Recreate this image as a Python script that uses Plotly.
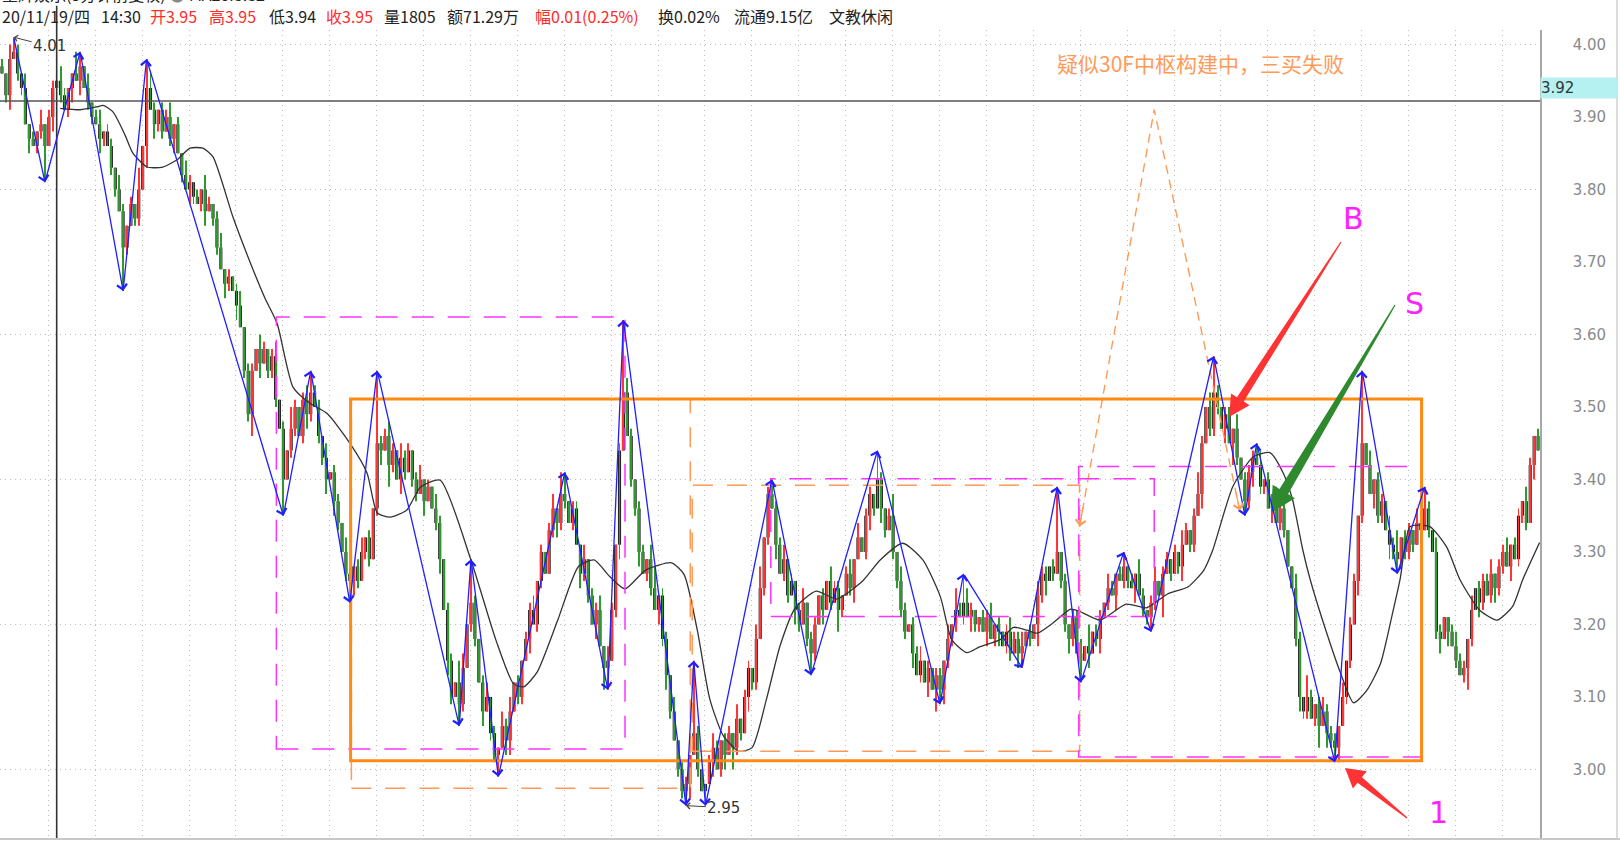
import plotly.graph_objects as go

# ---------------- data ----------------
first_open = 3.97
close_cents = [
    396, 393, 398, 399, 396, 394, 389, 387, 386, 388,   # 0-9
    389, 386, 390, 394, 395, 393, 391, 394, 396, 395,   # 10-19
    397, 394, 392, 390, 389, 387, 388, 386, 383, 380,   # 20-29
    377, 372, 375, 378, 376, 380, 386, 394, 391, 389,   # 30-39
    391, 388, 390, 387, 389, 385, 382, 380, 381, 379,   # 40-49
    378, 380, 377, 378, 376, 372, 369, 367, 368, 366,   # 50-59
    364, 361, 355, 349, 355, 358, 356, 358, 355, 357,   # 60-69
    351, 347, 340, 344, 347, 350, 346, 351, 349, 352,   # 70-79
    350, 346, 343, 340, 341, 337, 334, 330, 327, 326,   # 80-89
    328, 326, 330, 332, 329, 336, 345, 344, 346, 342,   # 90-99
    344, 340, 343, 341, 344, 340, 338, 340, 337, 339,   # 100-109
    336, 334, 329, 322, 315, 310, 312, 309, 314, 320,   # 110-119
    323, 318, 312, 308, 310, 305, 302, 303, 306, 304,   # 120-129
    308, 312, 310, 315, 318, 322, 320, 326, 330, 327,   # 130-139
    333, 336, 334, 338, 337, 334, 336, 331, 327, 329,   # 140-149
    324, 320, 322, 317, 314, 315, 322, 331, 344, 352,   # 150-159
    346, 340, 336, 330, 327, 329, 325, 322, 324, 318,   # 160-169
    313, 308, 304, 300, 297, 298, 302, 305, 300, 297,   # 170-179
    298, 301, 303, 300, 304, 302, 305, 303, 307, 305,   # 180-189
    310, 314, 312, 318, 325, 332, 338, 336, 331, 327,   # 190-199
    329, 324, 326, 322, 320, 323, 318, 316, 320, 324,   # 200-209
    322, 326, 323, 325, 322, 324, 327, 325, 329, 332,   # 210-219
    330, 335, 338, 336, 340, 336, 333, 335, 330, 326,   # 220-229
    322, 319, 320, 316, 313, 315, 312, 314, 311, 313,   # 230-239
    311, 315, 318, 320, 322, 321, 323, 321, 322, 320,   # 240-249
    321, 319, 321, 318, 320, 319, 317, 319, 316, 318,   # 250-259
    316, 317, 319, 318, 320, 324, 327, 326, 328, 327,   # 260-269
    330, 326, 320, 318, 321, 316, 315, 317, 316, 319,   # 270-279
    318, 321, 323, 325, 324, 327, 326, 328, 326, 325,   # 280-289
    327, 324, 322, 321, 323, 326, 324, 327, 329, 327,   # 290-299
    330, 328, 331, 333, 331, 335, 338, 345, 350, 347,   # 300-309
    352, 350, 347, 349, 345, 347, 343, 340, 337, 341,   # 310-319
    343, 342, 339, 340, 336, 338, 334, 336, 333, 328,   # 320-329
    325, 318, 310, 308, 310, 307, 309, 306, 308, 305,   # 330-339
    304, 303, 306, 310, 315, 320, 326, 335, 345, 342,   # 340-349
    338, 340, 335, 337, 333, 331, 330, 329, 332, 330,   # 350-359
    333, 331, 334, 333, 336, 333, 330, 319, 318, 321,   # 360-369
    319, 317, 315, 313, 314, 318, 322, 325, 323, 326,   # 370-379
    324, 327, 325, 328, 330, 328, 331, 329, 335, 337,   # 380-389
    334, 342, 346, 344,                                 # 390-393
]
# upper / lower shadow length of each bar, in cents
up_wick = ("1021102010 2011021003 1020120110 2101030121 0112010210 1021012010 "
           "1201102101 2010310120 1102011021 0120103112 1021101201 0210110320 "
           "1101201021 2010112010 1203101102 0112021010 2101102301 1020110210 "
           "0121011020 1102301011 2010120110 1021101202 0110210130 2101120101 "
           "1020310210 0112010121 1201021101 2010112030 1102101201 0210120110 "
           "1021013102 2101102011 1120101210 0210310121 1102011020 2011021301 "
           "1020110210 0121102011 1201120110 2101")
down_wick = ("0120110201 1102010120 2011021011 0210110302 1101201021 0120110210 "
             "2011302011 1020110121 0112021010 2101101203 1021011020 0120210110 "
             "1102011302 2011020110 0121101021 1020310120 0112011021 2101102010 "
             "1020120311 0211011020 1102101210 2010310120 0121021011 1102010203 "
             "0211101021 1020120110 2101031201 0112101020 1201020110 2011210301 "
             "0120110201 1102031021 2011020110 0121101302 1020110210 0211021011 "
             "1102010120 2010131021 0121102011 1020")

# zigzag ("bi") turning points: bar index and price
zz_bar = [3, 11, 20, 31, 37, 72, 79, 89, 96, 117, 120, 127, 144, 155, 159, 175, 177,
          180, 197, 207, 224, 240, 246, 261, 270, 276, 287, 294, 310, 318, 321, 341,
          348, 357, 364]
zz_price = [4.01, 3.81, 3.99, 3.66, 3.98, 3.35, 3.55, 3.23, 3.55, 3.06, 3.29, 2.99,
            3.41, 3.11, 3.62, 2.95, 3.15, 2.95, 3.40, 3.13, 3.44, 3.09, 3.27, 3.14,
            3.39, 3.12, 3.30, 3.19, 3.57, 3.35, 3.45, 3.01, 3.55, 3.27, 3.39]

# moving-average curve read point by point
ma_bar = [14.9, 20.0, 24.3, 25.9, 28.4, 31.5, 33.5, 37.1, 41.2, 44.8, 48.1, 51.4, 54.0,
          59.1, 64.2, 67.3, 70.4, 74.5, 78.8, 83.2, 89.0, 93.4, 96.0, 99.3, 103.6, 107.0,
          112.1, 119.8, 126.4, 130.9, 133.5, 137.0, 142.2, 147.5, 151.5, 155.5, 159.4,
          164.7, 171.3, 174.5, 177.9, 181.1, 184.5, 188.5, 191.9, 195.6, 199.1, 203.0,
          208.3, 213.6, 220.2, 224.7, 230.5, 235.6, 240.1, 243.0, 246.9, 250.1, 255.4,
          258.8, 262.3, 264.9, 268.9, 273.4, 275.7, 281.0, 287.6, 292.9, 298.2, 303.5,
          307.5, 309.8, 314.9, 320.1, 324.4, 327.8, 330.2, 332.8, 334.7, 338.7, 342.4,
          345.8, 349.2, 352.7, 355.8, 357.7, 360.3, 365.3, 369.6, 373.0, 378.0, 382.5,
          386.5, 389.1, 393.4]
ma_price = [3.912, 3.910, 3.914, 3.916, 3.907, 3.875, 3.850, 3.831, 3.831, 3.841, 3.857,
            3.857, 3.845, 3.762, 3.690, 3.650, 3.615, 3.527, 3.505, 3.491, 3.450, 3.409,
            3.354, 3.348, 3.358, 3.389, 3.399, 3.292, 3.178, 3.118, 3.114, 3.135, 3.206,
            3.280, 3.289, 3.266, 3.249, 3.275, 3.285, 3.269, 3.192, 3.097, 3.047, 3.025,
            3.030, 3.097, 3.171, 3.223, 3.246, 3.235, 3.260, 3.289, 3.312, 3.289, 3.238,
            3.179, 3.161, 3.169, 3.179, 3.196, 3.192, 3.188, 3.202, 3.221, 3.218, 3.206,
            3.228, 3.223, 3.242, 3.252, 3.275, 3.303, 3.390, 3.431, 3.437, 3.409, 3.372,
            3.303, 3.262, 3.192, 3.134, 3.092, 3.109, 3.146, 3.216, 3.262, 3.335, 3.335,
            3.307, 3.262, 3.220, 3.206, 3.225, 3.262, 3.313]

# pivot boxes (bar range and price range)
mag_box_start = [70.2, 196.7, 275.5]
mag_box_end = [159.4, 294.8, 363.2]
mag_box_low = [3.028, 3.211, 3.017]
mag_box_high = [3.624, 3.401, 3.418]
org_dash_start = [89.4, 176.6]
org_dash_end = [176.1, 275.7]
org_dash_low = [2.974, 3.025]
org_dash_high = [3.511, 3.392]
org_box_start, org_box_end = 89.2, 363.2
org_box_low, org_box_high = 3.012, 3.511

# expected path (orange dashed)
exp_bar = [275.7, 294.8, 316.7]
exp_price = [3.335, 3.910, 3.357]

cursor_bar = 14.0
cursor_price = 3.922
y_tick_values = [3.00, 3.10, 3.20, 3.30, 3.40, 3.50, 3.60, 3.70, 3.80, 3.90, 4.00]
h_grid_values = [3.00, 3.20, 3.40, 3.60, 3.80, 4.00]

# header tokens: text, colour flag (1 = red)
header_text = ["20/11/19/四", "14:30", "开3.95", "高3.95", "低3.94", "收3.95", "量1805",
               "额71.29万", "幅0.01(0.25%)", "换0.02%", "流通9.15亿", "文教休闲"]
header_red = [0, 0, 1, 1, 0, 1, 0, 0, 1, 0, 0, 0]
header_left_px = [0, 99, 148, 207, 267, 324, 382, 445, 533, 656, 732, 827]

# ---------------- build candles ----------------
N = len(close_cents)
ups = [int(ch) for ch in up_wick.replace(" ", "")][:N]
dns = [int(ch) for ch in down_wick.replace(" ", "")][:N]
close = [c / 100 for c in close_cents]
open_ = [first_open] + close[:-1]
high = [round(max(o, c) + u / 100, 2) for o, c, u in zip(open_, close, ups)]
low = [round(min(o, c) - d / 100, 2) for o, c, d in zip(open_, close, dns)]
for b, p in zip(zz_bar, zz_price):
    high[b] = max(high[b], p)
    low[b] = min(low[b], p)
bars = list(range(N))

# ---------------- styling ----------------
RED = '#ff3535'
GREEN = '#2e9a2e'
BLUE = '#1f1fff'
MAG = '#ff33ff'
ORG = '#ff8a14'
ORG_L = '#ff9a58'
PLOT_W, PLOT_H, PLOT_TOP = 1540.0, 809.0, 30.0
Y0, Y1 = 2.904, 4.020

wick_col = [RED if c >= o else GREEN for o, c in zip(open_, close)]
body_base = [min(o, c) for o, c in zip(open_, close)]
body_h = [max(abs(c - o), 0.003) for o, c in zip(open_, close)]

fig = go.Figure()
fig.add_trace(go.Bar(x=bars, y=body_h, base=body_base, width=0.8,
                     marker=dict(color='#262626', line=dict(width=0)), hoverinfo='skip'))
fig.add_trace(go.Bar(x=bars, y=[h - l for h, l in zip(high, low)], base=low, width=0.24,
                     marker=dict(color=wick_col, line=dict(width=0)), hoverinfo='skip'))
fig.add_trace(go.Scatter(x=ma_bar, y=ma_price, mode='lines',
                         line=dict(color='#333333', width=1.3, shape='spline', smoothing=0.6),
                         hoverinfo='skip'))
fig.add_trace(go.Scatter(x=exp_bar, y=exp_price, mode='lines',
                         line=dict(color=ORG_L, width=1.4, dash='9px,6px'), hoverinfo='skip'))

shapes = []
for v in h_grid_values:
    shapes.append(dict(type='line', xref='paper', x0=0, x1=1, yref='y', y0=v, y1=v,
                       line=dict(color='#bdbdbd', width=1, dash='1px,4px'), layer='below'))
for x0, x1, lo, hi in zip(org_dash_start, org_dash_end, org_dash_low, org_dash_high):
    shapes.append(dict(type='rect', xref='x', yref='y', x0=x0, x1=x1, y0=lo, y1=hi,
                       line=dict(color=ORG_L, width=1.5, dash='20px,14px')))
for x0, x1, lo, hi in zip(mag_box_start, mag_box_end, mag_box_low, mag_box_high):
    shapes.append(dict(type='rect', xref='x', yref='y', x0=x0, x1=x1, y0=lo, y1=hi,
                       line=dict(color=MAG, width=1.5, dash='22px,14px')))
shapes.append(dict(type='rect', xref='x', yref='y', x0=org_box_start, x1=org_box_end,
                   y0=org_box_low, y1=org_box_high, line=dict(color=ORG, width=3)))
# crosshair
shapes.append(dict(type='line', xref='x', x0=cursor_bar, x1=cursor_bar, yref='paper', y0=0, y1=1.03,
                   line=dict(color='#333333', width=1.6)))
shapes.append(dict(type='line', xref='paper', x0=0, x1=1, yref='y', y0=cursor_price, y1=cursor_price,
                   line=dict(color='#555555', width=1.5)))
# frame lines
shapes.append(dict(type='line', xref='paper', x0=0, x1=1.052, yref='paper', y0=0, y1=0,
                   line=dict(color='#c8c8c8', width=2)))
shapes.append(dict(type='line', xref='paper', x0=1.05, x1=1.05, yref='paper', y0=0, y1=1.04,
                   line=dict(color='#d0d0d0', width=1.5)))


def paper(px, py):
    return px / PLOT_W, (PLOT_TOP + PLOT_H - py) / PLOT_H


def tapered_arrow(tail, tip, head_len, head_half, shaft_half, tail_half, color):
    tx, ty = tail
    px, py = tip
    dx, dy = px - tx, py - ty
    L = (dx * dx + dy * dy) ** 0.5
    ux, uy = dx / L, dy / L
    nx, ny = -uy, ux
    bx, by = px - ux * head_len, py - uy * head_len
    pts = [(tx + nx * tail_half, ty + ny * tail_half),
           (bx + nx * shaft_half, by + ny * shaft_half),
           (bx + nx * head_half, by + ny * head_half),
           (px, py),
           (bx - nx * head_half, by - ny * head_half),
           (bx - nx * shaft_half, by - ny * shaft_half),
           (tx - nx * tail_half, ty - ny * tail_half)]
    path = 'M ' + ' L '.join('%.5f,%.5f' % paper(x, y) for x, y in pts) + ' Z'
    return dict(type='path', xref='paper', yref='paper', path=path,
                fillcolor=color, line=dict(width=0))


shapes.append(tapered_arrow((1341, 242), (1229, 417), 21, 11, 4, 0.6, '#ff3333'))
shapes.append(tapered_arrow((1395, 305), (1271, 513), 25, 13, 5, 0.6, '#2f8a2f'))
shapes.append(tapered_arrow((1407, 818), (1345, 768), 19, 11, 3.5, 0.6, '#ff3333'))

ann = []
for i in range(1, len(zz_bar)):
    ann.append(dict(x=zz_bar[i], y=zz_price[i], xref='x', yref='y',
                    ax=zz_bar[i - 1], ay=zz_price[i - 1], axref='x', ayref='y',
                    text='', showarrow=True, arrowhead=4, arrowsize=1.5, arrowwidth=1.3,
                    arrowcolor=BLUE, standoff=0))
for end in (0, 2):
    ex, ey = exp_bar[end], exp_price[end]
    ann.append(dict(x=ex, y=ey, xref='x', yref='y',
                    ax=ex + 0.05 * (exp_bar[1] - ex), ay=ey + 0.05 * (exp_price[1] - ey),
                    axref='x', ayref='y', text='', showarrow=True, arrowhead=4,
                    arrowsize=1.5, arrowwidth=1.3, arrowcolor=ORG_L, standoff=0))
# extreme labels
ann.append(dict(x=zz_bar[0], y=zz_price[0], xref='x', yref='y', text='4.01', showarrow=True,
                ax=36, ay=9, arrowhead=4, arrowsize=1.2, arrowwidth=1, arrowcolor='#444',
                font=dict(family='DejaVu Sans', size=15, color='#333')))
ann.append(dict(x=zz_bar[15], y=zz_price[15], xref='x', yref='y', text='2.95', showarrow=True,
                ax=38, ay=2, arrowhead=4, arrowsize=1.2, arrowwidth=1, arrowcolor='#444',
                font=dict(family='DejaVu Sans', size=15, color='#333')))
# commentary texts
cx, cy = paper(1200, 63)
ann.append(dict(xref='paper', yref='paper', x=cx, y=cy, xanchor='center', yanchor='middle',
                text='疑似30F中枢构建中，三买失败', showarrow=False,
                font=dict(family='Noto Sans CJK SC', size=21, color=ORG_L)))
for t, (px, py) in (('B', (1353, 218)), ('S', (1414, 303)), ('1', (1438, 812))):
    xx, yy = paper(px, py)
    ann.append(dict(xref='paper', yref='paper', x=xx, y=yy, xanchor='center', yanchor='middle',
                    text=t, showarrow=False,
                    font=dict(family='DejaVu Sans', size=30, color='#ff22ff')))
# header line
hy = paper(0, 16)[1]
for txt, red, left in zip(header_text, header_red, header_left_px):
    ann.append(dict(xref='paper', yref='paper', x=left / PLOT_W, y=hy, xanchor='left',
                    yanchor='middle', text=txt, showarrow=False,
                    font=dict(family='Noto Sans CJK SC', size=16,
                              color='#ff2b2b' if red else '#222222')))
ann.append(dict(xref='paper', yref='paper', x=0, y=paper(0, -6)[1], xanchor='left',
                yanchor='middle', text="星辉娱乐(5分钟前复权) <span style='color:#888'>●</span> MA20:3.32",
                showarrow=False,
                font=dict(family='Noto Sans CJK SC', size=16, color='#222')))
# cursor price label
ann.append(dict(xref='paper', yref='paper', x=1.0, y=paper(0, 88)[1], xanchor='left',
                yanchor='middle', text='3.92', showarrow=False, width=76, height=20,
                align='left', bgcolor='#b5f1f1', borderpad=0,
                font=dict(family='DejaVu Sans', size=15, color='#333')))

grid_x = [11.86 + 12 * k for k in range(32)]
fig.update_layout(
    width=1620, height=844, margin=dict(l=0, r=80, t=30, b=5),
    paper_bgcolor='white', plot_bgcolor='white', showlegend=False, barmode='overlay',
    shapes=shapes, annotations=ann,
    xaxis=dict(range=[-0.5, N - 0.5], tickvals=grid_x, showticklabels=False, ticks='',
               showgrid=True, gridcolor='#bdbdbd', griddash='1px,4px', gridwidth=1,
               zeroline=False, showline=False),
    yaxis=dict(side='right', range=[Y0, Y1], tickvals=y_tick_values,
               ticktext=['%.2f' % v for v in y_tick_values], showgrid=False, zeroline=False,
               showline=True, linecolor='#a8a8a8', linewidth=1.5, ticks='',
               ticklabelstandoff=28,
               tickfont=dict(family='DejaVu Sans', size=15, color='#8a8a8a')),
)
fig.write_html("out.html", config={'displayModeBar': False},
               post_script="document.body.style.margin='0px';")
